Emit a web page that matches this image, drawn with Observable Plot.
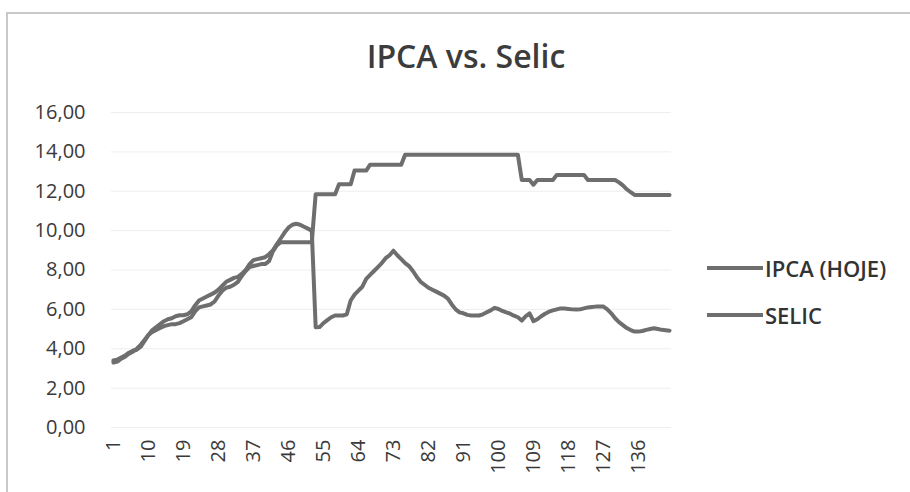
<!DOCTYPE html>
<html><head><meta charset="utf-8">
<script src="https://cdn.jsdelivr.net/npm/d3@7"></script>
<script src="https://cdn.jsdelivr.net/npm/@observablehq/plot@0.6"></script>
<style>
body{margin:0;background:#fff;}
#wrap{position:relative;width:910px;height:492px;overflow:hidden;font-family:"Open Sans",sans-serif;background:#fff;}
#frame{position:absolute;left:6px;top:12px;width:920px;height:500px;border-left:2px solid #c9c9c9;border-top:2px solid #c9c9c9;}
#title{position:absolute;left:0;width:932px;top:36px;text-align:center;font-size:32px;font-weight:600;color:#3c3c3c;line-height:40px;}
#chart{position:absolute;left:0;top:85px;}
.leg{position:absolute;left:707px;height:30px;font-size:22px;font-weight:600;color:#333;display:flex;align-items:center;}
.leg .sw{display:inline-block;width:56px;height:4px;background:#6e6e6e;margin-right:2px;}
</style>
</head><body>
<div id="wrap">
  <div id="frame"></div>
  <div id="title">IPCA vs. Selic</div>
  <div id="chart"></div>
  <div id="legend"></div>
</div>
<script>
const seriesNames = ["IPCA (HOJE)", "SELIC"];
const yTicks = [0, 2, 4, 6, 8, 10, 12, 14, 16];
const xTickLabels = [1, 10, 19, 28, 37, 46, 55, 64, 73, 82, 91, 100, 109, 118, 127, 136];

const ipca = [
  3.40,3.45,3.55,3.65,3.80,3.90,3.95,4.10,4.40,4.70,
  4.95,5.10,5.25,5.40,5.50,5.55,5.65,5.70,5.70,5.75,
  5.90,6.20,6.45,6.55,6.65,6.75,6.85,7.00,7.20,7.40,
  7.50,7.60,7.65,7.80,8.00,8.30,8.50,8.55,8.60,8.65,
  8.80,9.00,9.30,9.60,9.90,10.15,10.30,10.35,10.30,10.20,
  10.10,10.00,5.09,5.10,5.30,5.45,5.60,5.69,5.69,5.69,
  5.75,6.45,6.75,6.95,7.15,7.55,7.75,7.95,8.15,8.35,
  8.60,8.75,8.98,8.75,8.55,8.35,8.20,7.95,7.65,7.40,
  7.25,7.10,7.00,6.90,6.80,6.70,6.55,6.25,6.00,5.85,
  5.80,5.72,5.69,5.69,5.69,5.75,5.85,5.95,6.08,6.02,
  5.92,5.85,5.78,5.68,5.60,5.43,5.65,5.80,5.40,5.50,
  5.65,5.78,5.88,5.95,6.00,6.05,6.04,6.02,6.00,5.99,
  6.00,6.05,6.10,6.12,6.14,6.15,6.14,6.00,5.80,5.55,
  5.35,5.20,5.05,4.95,4.87,4.87,4.90,4.96,5.00,5.04,
  5.00,4.96,4.94,4.92
];

const selic = [
  3.30,3.35,3.50,3.60,3.75,3.85,4.00,4.20,4.45,4.70,
  4.85,4.95,5.05,5.15,5.20,5.25,5.25,5.30,5.40,5.50,
  5.60,5.90,6.10,6.15,6.20,6.25,6.40,6.70,6.95,7.10,
  7.15,7.25,7.40,7.70,7.95,8.15,8.20,8.25,8.30,8.30,
  8.45,8.95,9.25,9.41,9.41,9.41,9.41,9.41,9.41,9.41,
  9.41,9.41,11.85,11.85,11.85,11.85,11.85,11.85,12.35,12.35,
  12.35,12.35,13.05,13.05,13.05,13.05,13.35,13.35,13.35,13.35,
  13.35,13.35,13.35,13.35,13.35,13.85,13.85,13.85,13.85,13.85,
  13.85,13.85,13.85,13.85,13.85,13.85,13.85,13.85,13.85,13.85,
  13.85,13.85,13.85,13.85,13.85,13.85,13.85,13.85,13.85,13.85,
  13.85,13.85,13.85,13.85,13.85,12.57,12.57,12.57,12.33,12.57,
  12.57,12.57,12.57,12.57,12.83,12.83,12.83,12.83,12.83,12.83,
  12.83,12.83,12.57,12.57,12.57,12.57,12.57,12.57,12.57,12.57,
  12.45,12.30,12.10,11.95,11.81,11.81,11.81,11.81,11.81,11.81,
  11.81,11.81,11.81,11.81
];

const lineColor = "#6e6e6e";
const rows = [];
[ipca, selic].forEach((arr, s) => arr.forEach((v, i) => rows.push({cat: i + 1, value: v, series: seriesNames[s]})));

const fmt = v => v.toFixed(2).replace(".", ",");

const chart = Plot.plot({
  width: 910,
  height: 407,
  marginLeft: 111,
  marginRight: 239,
  marginTop: 27,
  marginBottom: 65,
  x: {domain: [0.5, 144.5]},
  y: {domain: [0, 16]},
  style: {fontFamily: "'Open Sans', sans-serif", fontSize: "20px", color: "#3a3a3a", background: "transparent", overflow: "visible"},
  marks: [
    Plot.gridY(yTicks, {stroke: "#eeeeee", strokeOpacity: 1, strokeWidth: 1}),
    Plot.axisY(yTicks, {tickSize: 0, tickPadding: 26, tickFormat: fmt, label: null, fill: "#3a3a3a", style: "letter-spacing:2px"}),
    Plot.axisX(xTickLabels, {tickSize: 0, tickRotate: -90, tickPadding: 12, label: null, fill: "#3a3a3a", fontWeight: 500, style: "letter-spacing:2px"}),
    Plot.lineY(rows, {x: "cat", y: "value", z: "series", stroke: lineColor, strokeWidth: 4, strokeLinejoin: "round", strokeLinecap: "round"})
  ]
});
document.getElementById("chart").appendChild(chart);

const legend = document.getElementById("legend");
const legendTops = [253, 300];
seriesNames.forEach((name, k) => {
  const d = document.createElement("div");
  d.className = "leg";
  d.style.top = legendTops[k] + "px";
  d.innerHTML = '<span class="sw"></span><span></span>';
  d.lastChild.textContent = name;
  legend.appendChild(d);
});
</script>
</body></html>
